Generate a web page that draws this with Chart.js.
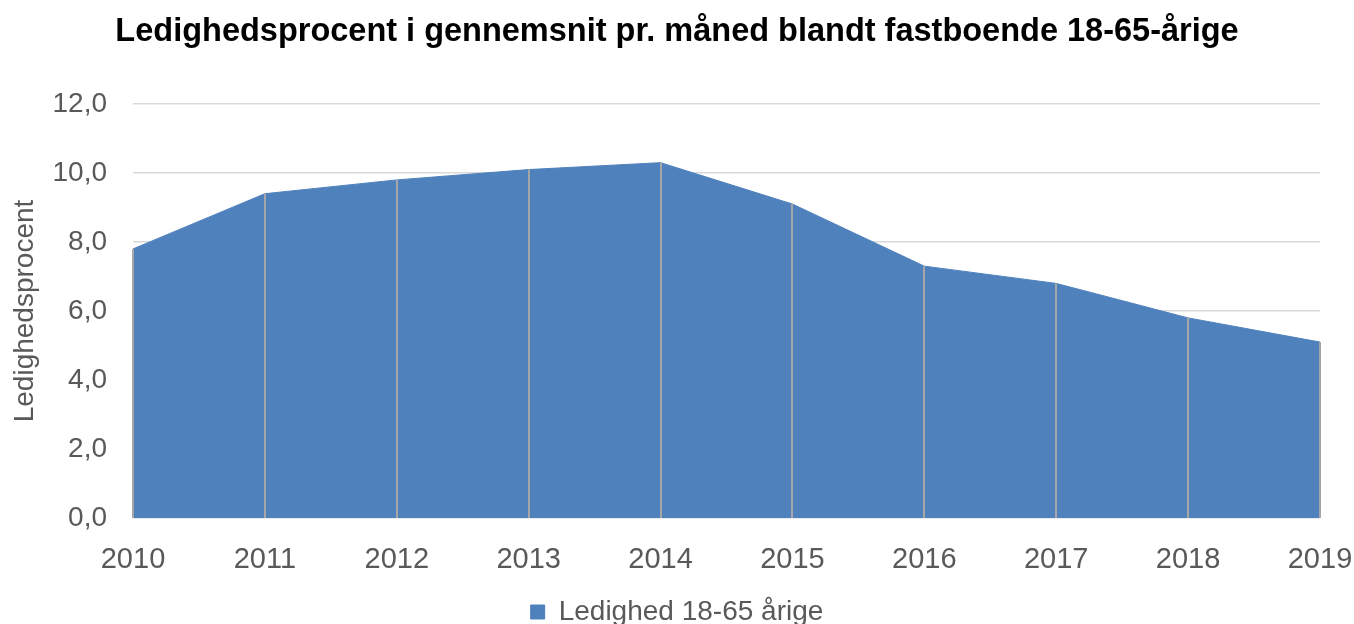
<!DOCTYPE html>
<html>
<head>
<meta charset="utf-8">
<script src="https://cdn.jsdelivr.net/npm/chart.js@4/dist/chart.umd.min.js"></script>
<style>
  html, body { margin:0; padding:0; overflow:hidden; background:#fff; }
  #wrap { width:1354px; height:636px; position:relative; }
</style>
</head>
<body>
<div id="wrap"><canvas id="chart"></canvas></div>
<script>
/* --- data --- */
const YEARS  = ['2010','2011','2012','2013','2014','2015','2016','2017','2018','2019'];
const LEDIG  = [7.8, 9.4, 9.8, 10.1, 10.3, 9.1, 7.3, 6.8, 5.8, 5.1];
const SERIES = 'Ledighed 18-65 årige';
const TITLE  = 'Ledighedsprocent i gennemsnit pr. måned blandt fastboende 18-65-årige';
const Y_TITLE = 'Ledighedsprocent';

const GREY = '#595959';
const FONT = "'Liberation Sans', Arial, sans-serif";

// lodrette streger fra hvert punkt ned til aksen
const dropLines = {
  id:'dropLines',
  afterDatasetsDraw(chart){
    const ctx = chart.ctx, bottom = chart.chartArea.bottom;
    const meta = chart.getDatasetMeta(0);
    ctx.save();
    ctx.strokeStyle = '#A6A6A6';
    ctx.lineWidth = 2;
    meta.data.forEach(p=>{
      ctx.beginPath();
      ctx.moveTo(Math.round(p.x), p.y);
      ctx.lineTo(Math.round(p.x), bottom);
      ctx.stroke();
    });
    ctx.restore();
  }
};

new Chart(document.getElementById('chart'), {
  type:'line',
  data:{
    labels:YEARS,
    datasets:[{
      label:SERIES,
      data:LEDIG,
      fill:'origin',
      backgroundColor:'#4F81BD',
      borderColor:'#4F81BD',
      borderWidth:1,
      pointRadius:0,
      tension:0
    }]
  },
  options:{
    responsive:true,
    maintainAspectRatio:false,
    animation:false,
    layout:{padding:0},
    plugins:{
      title:{
        display:true, text:TITLE, color:'#000',
        font:{family:FONT, size:32.5, weight:'bold'},
        padding:{top:13, bottom:52}
      },
      legend:{
        position:'bottom',
        labels:{
          color:GREY, boxWidth:14, boxHeight:14, padding:10,
          font:{family:FONT, size:28}
        }
      },
      tooltip:{enabled:false}
    },
    scales:{
      x:{
        offset:false,
        grid:{display:false},
        border:{display:false},
        ticks:{color:GREY, padding:17, maxRotation:0, font:{family:FONT, size:29}},
        afterFit(s){ s.height = 70; s.paddingRight = 34; }
      },
      y:{
        min:0, max:12,
        ticks:{
          stepSize:2, color:GREY, padding:26,
          font:{family:FONT, size:28},
          callback:v=>v.toFixed(1).replace('.',',')
        },
        grid:{color:'#D9D9D9', lineWidth:1.5, drawTicks:false},
        border:{display:false},
        title:{display:true, text:Y_TITLE, color:GREY, font:{family:FONT, size:28}, padding:{top:8, bottom:0}},
        afterFit(s){ s.width = 133; }
      }
    }
  },
  plugins:[dropLines]
});
</script>
</body>
</html>
